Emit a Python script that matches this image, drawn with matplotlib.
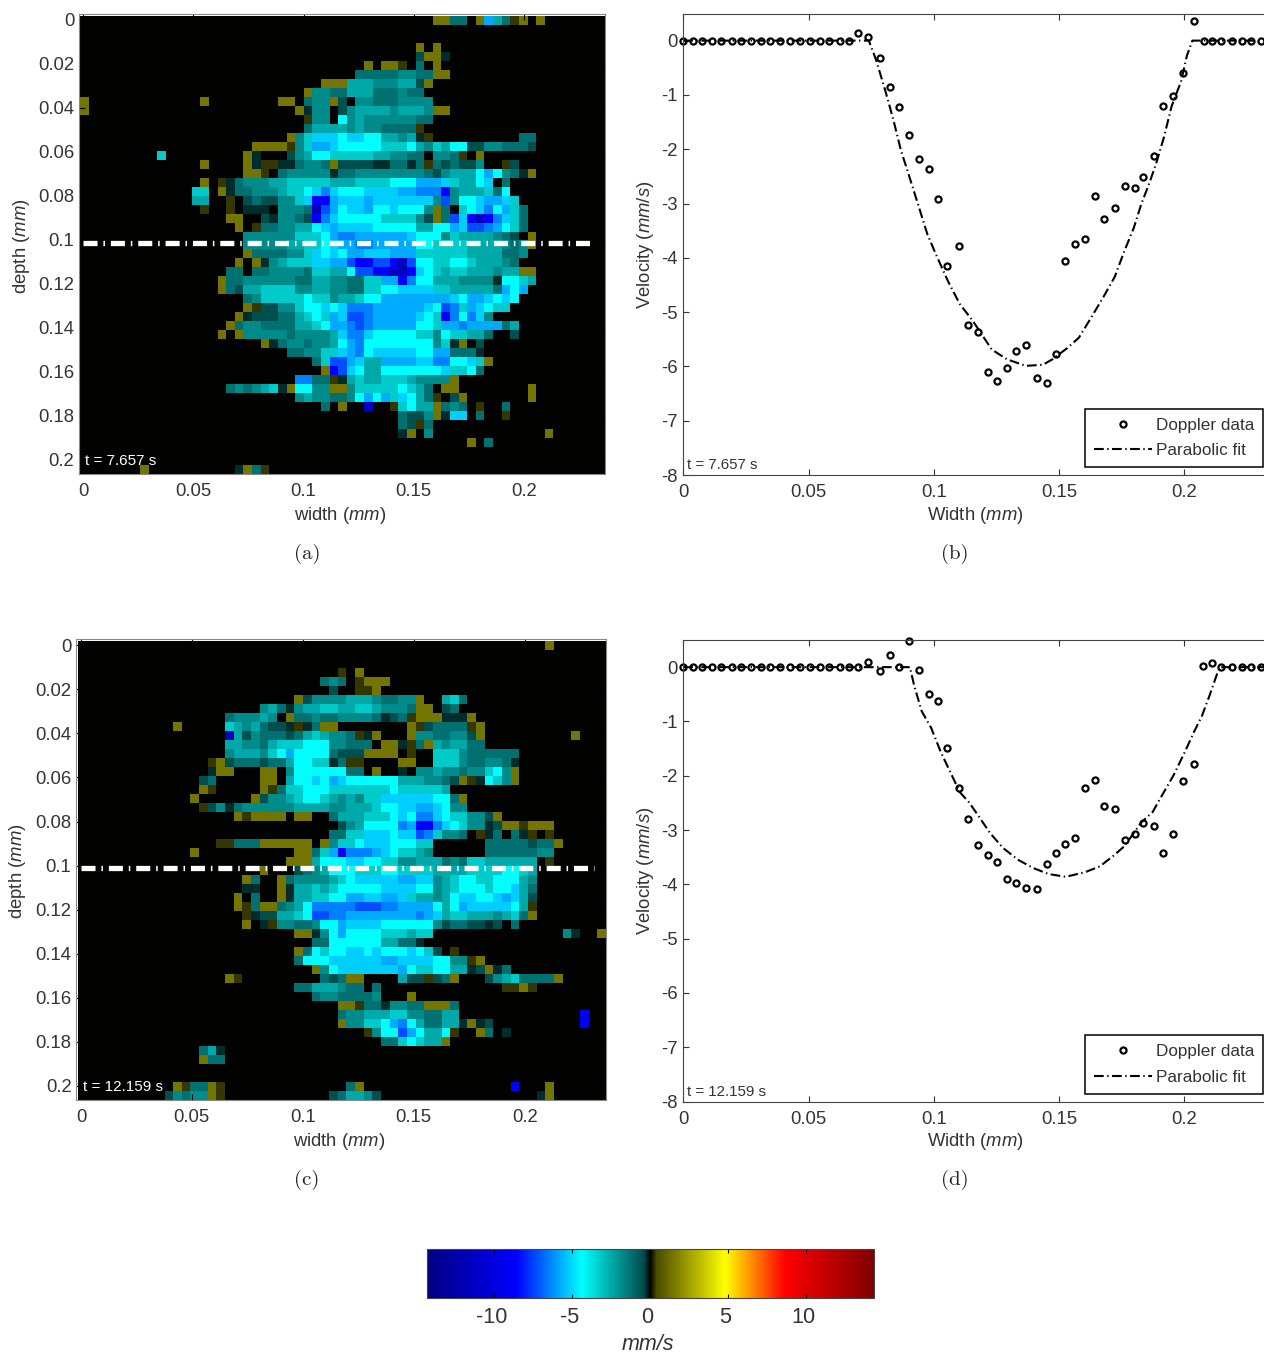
import numpy as np
import matplotlib
matplotlib.use('Agg')
import matplotlib.pyplot as plt
from matplotlib.colors import LinearSegmentedColormap
from matplotlib.transforms import ScaledTranslation

W, H = 1264, 1355

plt.rcParams['font.family'] = ['Liberation Sans', 'DejaVu Sans']
plt.rcParams['mathtext.fontset'] = 'custom'
plt.rcParams['mathtext.it'] = 'Liberation Sans:italic'
plt.rcParams['mathtext.rm'] = 'Liberation Sans'
plt.rcParams['axes.unicode_minus'] = False
plt.rcParams['lines.scale_dashes'] = False

# velocity (mm/s) for each letter used in the maps below
levels = {'.': 0, 'o': .29, 'y': 1.45, 'a': -.23, 'b': -.51, 'c': -1.25, 'd': -1.84,
          'e': -2.52, 'f': -3.27, 'g': -4.4, 'h': -5.2, 'i': -5.8, 'j': -6.5,
          'k': -7.3, 'l': -8.6, 'm': -11.5}

# each row: "first_column:letters"
map_a = [
    "41:yycc.yiecoy.y", "", "", "39:y.y", "39:byya", "33:y.yyo.c.y",
    "32:cccccddccyy", "28:yyyeeedddeeby", "26:yddcceeecccdcc",
    "0:y 14:y 23:yy 26:cddyb.ddcccdddd", "0:y 25:yadd.bdeeeedeeedyy",
    "26:odd.gdeddddddcc", "26:ceeeededdcccco", "24:ydfhhhghhggeedeao 51:cc",
    "20:yyyyodfiihgggggfffgedfeggbbddcccb", "9:f 19:ya...bdeggfffffeeddcc.ddco.y",
    "14:y 19:yaooaacddcybbbbaaccacocbcbbd..ob", "19:yyo.cdddddaccddddddddcbdeeegigdcay",
    "14:y.oacdddeefffffeeeffffgggiiihfeegh.c", "13:ff.yaccdddeffghjhggghhhhiijjjldeeefcg",
    "13:ee..o.bcbbddfhllihhhihhhhhhhdkdgghiihf", "14:o..o.aaa.dddcmkighhigghgggdyc.fghjgifc",
    "17:yy..baddcbljhgggggffffdbyckhlmljhfc", "18:y.occddeeghihhhhgggggeeggihkkjigfc",
    "19:ddddddfffgijjiiiiiihgggdfeeeedcb.y", "19:dddddeeffghiijjiiiiiggffffeeeedcdy",
    "19:yccccddfhghgiihhhiiiffffffeeeeccd", "18:y.yadefffhhiikllkklmkggffggfeeedc",
    "17:cc.ccddddcffeegkkllmmlhgfeffeeedeeyy", "16:yccddddddcceeddccffiiljggeeeddddaggfe",
    "16:ycbeeffffddeeddccffgghhhhffeeeeecigi", "19:cdfffffgffdeefggiiiiiiiihgiihghg",
    "19:yobbddfgghghjjjiiiiiihgkjfihgff", "18:yabbbccefgfihkkjiiiiihgfljgjhd",
    "17:ycddcccceefgiijkjiiiiiggfiijiiiice", "16:y.ydddddcddddehjjhgggggffdgffeec..b",
    "21:yacddcddegijggggggggdfay.b", "24:ccddffhijghhhhhggiiccca",
    "27:cfkkiheeiiiihhjjgghfy", "28:ylkhgeeggggggghffgc", "25:jjccoaefeefffeddddy",
    "17:cdcdefayggddyydfffffgfec.yy 52:y", "25:deddccdgigifhgeco.by 52:y",
    "28:c.y..m..ofgeeycdc.o..c", "37:cbbdyahh.c..o", "37:cboc", "37:ay.d 54:y",
    "45:y.c", "", "", "7:y 18:ayco",
]

map_c = [
    "54:y", "", "", "30:o.y", "28:cdc.oyyy", "29:b..ooy",
    "25:ybddddeeedccddy..efc", "21:decadeeffeeffedddcyy.bc",
    "17:cddded.yccdccddddcabcoyyyaaay", "11:y 17:fedecbbaoacyy........yobccccoy",
    "17:mebdcccbcefeddcoay...yddccddby 57:y", "17:eeddcefffgggddccc.yyaocyedeecc",
    "17:deeedfgiggggcbbbyyyy.o..fffdcccccc", "15:oybcccbcceggffacoo....yy..fffdccddca",
    "15:ayy...yy.dggggggcc.y..a.ddeddcddfgdy", "14:bc.....yy.egghgihggggggeeeddcbyoagfdy",
    "14:yo.....yocffgggfffffffgfffffe", "13:y......ybddefggfededffhhhhhhggcy",
    "14:obdacddddddeeeeddeeefgghhiihgdd", "18:yoyyyy.yy..ceeefffghgjjhgffddby",
    "30:bdeggggjilljhgfddabyyoyyy", "29:ccffhhhghhkjfddc.oac.cao.o",
    "16:oocccyyyyyy.ydffghhhgggff......cccccbccy", "13:y 25:yycfiljjjihgffed......ccccccdd",
    "24:yyyeggghhggffddeeecdcffeeeeee.o", "21:y...bcdegggfffggffffeeeeffffggfe",
    "19:yc..ycddddefghhhhhiihhdefggffggged", "19:aa..yaeefefggggghhhhggdefgggfgghec",
    "18:y.c..yaeeffggiihhiihfeedeghhgghiheb", "18:yocyycdegjjjjjkkkjjiiiigegihhhhhgeo",
    "19:oabbeefgkkjjiiiiiiiijiheffeeedefcy", "19:y.aoddccdggihhhhggggggdbccbbab.c",
    "25:yyadgiggggfffeff 56:da..y", "27:ccggggggeecca", "25:ycgfgghhghggghgfb.o",
    "25:cggghhhhhhiihhhhggddoy", "27:ydghhhhhhhigffggeeabyac",
    "17:yo 28:cbcyy....ebbobcy...bdefccccy", "25:cceeedcc.c 49:ooyo", "27:cddccccd...y",
    "30:yyoccaddccyyyc", "30:cddeeeffddccee 58:l", "30:yddffgijgecceeayab 58:l",
    "33:odggkigeego..yc.a", "35:ccfgfeey", "14:cea", "14:ycc", "", "",
    "11:yoccyo 31:cy 50:l...y", "10:bdcddyo 29:bceedb 53:ay",
]

# Doppler profile, t = 7.657 s
width_b = [0, .0038, .0074, .0113, .0151, .0193, .0231, .027, .031, .0348, .0385, .0425,
           .0468, .0506, .0544, .0583, .0626, .066, .0698, .0739, .0786, .0824, .0863, .0901,
           .0942, .098, .1017, .1055, .11, .1138, .1176, .1215, .1253, .1291, .133, .1368,
           .1412, .1451, .149, .1525, .1566, .1605, .1643, .1681, .1725, .1764, .1802, .1835,
           .1879, .1917, .1956, .1994, .2038, .2079, .2113, .2148, .2192, .223, .2268, .2306]
vel_b = [0, 0, 0, 0, 0, 0, 0, 0, 0, 0, 0, 0, 0, 0, 0, 0, 0, 0, .14, .06, -.32, -.85, -1.23, -1.73,
         -2.18, -2.36, -2.92, -4.16, -3.78, -5.23, -5.37, -6.11, -6.27, -6.03, -5.71, -5.61,
         -6.21, -6.30, -5.78, -4.06, -3.74, -3.65, -2.87, -3.28, -3.08, -2.67, -2.72, -2.52,
         -2.13, -1.20, -1.02, -.59, .37, 0, 0, 0, 0, 0, 0, 0]
fit_x_b = [0, .0741, .0771, .0809, .0839, .0869, .0899, .0937, .0975, .1013, .1058, .1104, .1156,
           .1232, .1293, .1368, .1436, .1474, .1534, .158, .1625, .1678, .1723, .1761, .1799,
           .1829, .186, .189, .192, .195, .1988, .2011, .2033, .2365]
fit_y_b = [0, 0, -.37, -.96, -1.46, -2.02, -2.45, -3.01, -3.57, -3.98, -4.44, -4.85, -5.16,
           -5.69, -5.87, -5.99, -5.97, -5.87, -5.66, -5.47, -5.13, -4.72, -4.35, -3.88, -3.45,
           -3.01, -2.64, -2.24, -1.77, -1.21, -.75, -.28, 0, 0]

# Doppler profile, t = 12.159 s
width_d = [0, .0038, .0074, .0113, .0151, .0193, .0231, .027, .031, .0348, .0385, .0425,
           .0468, .0506, .0544, .0583, .0626, .066, .0698, .0739, .0786, .0824, .0862, .0902,
           .0942, .098, .1017, .1055, .11, .1138, .1176, .1215, .1253, .1291, .133, .1368,
           .1412, .1451, .1489, .1525, .1566, .1605, .1643, .1681, .1725, .1764, .1802, .1835,
           .1879, .1917, .1956, .1994, .2038, .2077, .2112, .2148, .2192, .223, .2268, .2306]
vel_d = [0, 0, 0, 0, 0, 0, 0, 0, 0, 0, 0, 0, 0, 0, 0, 0, 0, 0, 0, .09, -.08, .22, 0, .48,
         -.06, -.49, -.63, -1.49, -2.23, -2.79, -3.27, -3.45, -3.58, -3.91, -3.98, -4.06,
         -4.08, -3.63, -3.42, -3.25, -3.14, -2.23, -2.08, -2.56, -2.61, -3.19, -3.07, -2.87,
         -2.92, -3.42, -3.07, -2.10, -1.78, .02, .07, 0, 0, 0, 0, 0]
fit_x_d = [0, .0905, .0922, .0952, .099, .1028, .1066, .1104, .1141, .1179, .1224, .1277, .1338,
           .1398, .1459, .1527, .1602, .1663, .1716, .1761, .1829, .1874, .1912, .1958, .2003,
           .2041, .2071, .2101, .2132, .2142, .2365]
fit_y_d = [0, 0, -.34, -.81, -1.12, -1.56, -1.93, -2.30, -2.49, -2.74, -3.05, -3.33, -3.55,
           -3.70, -3.81, -3.86, -3.78, -3.67, -3.48, -3.30, -2.86, -2.67, -2.36, -1.99, -1.56,
           -1.18, -.90, -.53, -.12, 0, 0]

map_xticks = [0, .05, .1, .15, .2]
map_xlabels = ['0', '0.05', '0.1', '0.15', '0.2']
map_yticks = [0, .02, .04, .06, .08, .1, .12, .14, .16, .18, .2]
map_ylabels = ['0', '0.02', '0.04', '0.06', '0.08', '0.1', '0.12', '0.14', '0.16', '0.18', '0.2']
vel_yticks = [0, -1, -2, -3, -4, -5, -6, -7, -8]
vel_ylabels = ['0', '-1', '-2', '-3', '-4', '-5', '-6', '-7', '-8']
cbar_ticks = [-10, -5, 0, 5, 10]
cbar_labels = ['-10', '-5', '0', '5', '10']

vmax = 14.35
stops = [(-vmax, '#000080'), (-8.6, '#0000ff'), (-4.4, '#00ffff'), (-.4, '#004a4a'), (0, '#000000'),
         (.4, '#4a4a00'), (4.8, '#ffff00'), (8.6, '#ff0000'), (vmax, '#800000')]
cmap = LinearSegmentedColormap.from_list(
    'dop', [((v + vmax) / (2 * vmax), c) for v, c in stops], N=1024)

TXT = '#333333'
fig = plt.figure(figsize=(W / 100, H / 100), dpi=100)


def place(left, top, right, bottom):
    return fig.add_axes([left / W, 1 - bottom / H, (right - left) / W, (bottom - top) / H])


def label(x, y, s, **kw):
    kw.setdefault('color', TXT)
    kw.setdefault('fontsize', 13.3)
    fig.text(x / W, 1 - y / H, s, ha='center', va='center', **kw)


def decode(rows):
    grid = np.zeros((51, 61))
    for r, row in enumerate(rows):
        for seg in row.split():
            start, codes = seg.split(':')
            for i, ch in enumerate(codes):
                grid[r, int(start) + i] = levels[ch]
    return grid


def draw_map(box, rows, xleft, line_end, stamp):
    ax = place(*box)
    im = ax.imshow(decode(rows), cmap=cmap, vmin=-vmax, vmax=vmax, aspect='auto',
                   interpolation='nearest', extent=(-.0012, .2367, .2063, -.0018))
    ax.set_xlim(xleft, .2367)
    ax.set_ylim(.2064, -.0027)
    ax.plot([0, line_end], [.1013, .1013], color='white', lw=3.8,
            dash_capstyle='butt', ls=(0, (10.1, 4.25, 1.1, 4.25)))
    ax.set_xticks(map_xticks, map_xlabels)
    ax.set_yticks(map_yticks, map_ylabels)
    ax.tick_params(direction='in', length=4, color='black', labelsize=13.3,
                   labelcolor=TXT, top=True, right=True)
    ax.tick_params(axis='x', pad=6.5)
    ax.tick_params(axis='y', pad=3.5)
    for s in ax.spines.values():
        s.set_color('#888888')
    ax.text(.0008, .2006, stamp, color='white', fontsize=11, va='center')
    return im


def draw_profile(box, ylim, xs, ys, fx, fy, stamp):
    ax = place(*box)
    ax.plot(fx, fy, color='black', lw=1.5, ls=(0, (7, 2.5, 1, 2.5)), label='Parabolic fit')
    ax.plot(xs, ys, 'o', mfc='none', mec='black', ms=4.4, mew=1.6, label='Doppler data',
            clip_on=False)
    ax.set_xlim(0, .2367)
    ax.set_ylim(*ylim)
    ax.set_xticks(map_xticks, map_xlabels)
    ax.set_yticks(vel_yticks, vel_ylabels)
    ax.tick_params(direction='in', length=4, color='#333333', labelsize=13.3,
                   labelcolor=TXT, top=True, right=True)
    ax.tick_params(axis='x', pad=6.5)
    ax.tick_params(axis='y', pad=4)
    for s in ax.spines.values():
        s.set_color('#444444')
    ax.text(.0015, -7.82, stamp, color=TXT, fontsize=10.8, va='center')
    h, l = ax.get_legend_handles_labels()
    leg = ax.legend(h[::-1], l[::-1], loc='lower right',
                    bbox_to_anchor=(1263 / W, 1 - (box[3] - 8) / H),
                    bbox_transform=fig.transFigure, borderaxespad=0, fontsize=12.3,
                    fancybox=False, framealpha=1, edgecolor='black', handlelength=3.4,
                    handletextpad=.2, labelspacing=.62, borderpad=.52, numpoints=1,
                    labelcolor=TXT)
    leg.get_frame().set_linewidth(1.1)


im = draw_map((79, 14, 605, 474), map_a, -.0018, .2322, 't = 7.657 s')
draw_map((76.3, 639.3, 606, 1100), map_c, -.0021, .2315, 't = 12.159 s')
draw_profile((683.3, 14, 1276, 475), (-8, .49), width_b, vel_b, fit_x_b, fit_y_b, 't = 7.657 s')
draw_profile((683.3, 640, 1276, 1101.6), (-8, .5), width_d, vel_d, fit_x_d, fit_y_d, 't = 12.159 s')

label(340, 516, r'width ($\mathit{mm}$)')
label(339, 1142, r'width ($\mathit{mm}$)')
label(975, 516, r'Width ($\mathit{mm}$)')
label(975, 1142, r'Width ($\mathit{mm}$)')
label(22, 246, r'depth ($\mathit{mm}$)', rotation=90)
label(18, 871, r'depth ($\mathit{mm}$)', rotation=90)
label(645, 245, r'Velocity ($\mathit{mm/s}$)', rotation=90)
label(645, 871, r'Velocity ($\mathit{mm/s}$)', rotation=90)

for x, y, s in [(307, 554, '(a)'), (955, 554, '(b)'), (307, 1180, '(c)'), (955, 1180, '(d)')]:
    label(x, y, s, family='cmr10', fontsize=15, color='#222222')

cax = place(426.7, 1249, 874, 1297.5)
cb = fig.colorbar(im, cax=cax, orientation='horizontal')
cb.set_ticks(cbar_ticks, labels=cbar_labels)
cax.tick_params(direction='in', length=3, color='black', labelsize=15.6, labelcolor=TXT,
                top=True, pad=6.5)
for t in cax.get_xticklabels():
    t.set_transform(t.get_transform() + ScaledTranslation(-.03, 0, fig.dpi_scale_trans))
cb.outline.set_edgecolor('#444444')
label(648, 1345, 'mm/s', fontsize=15.5, style='italic')

fig.savefig('out.png', dpi=100)
